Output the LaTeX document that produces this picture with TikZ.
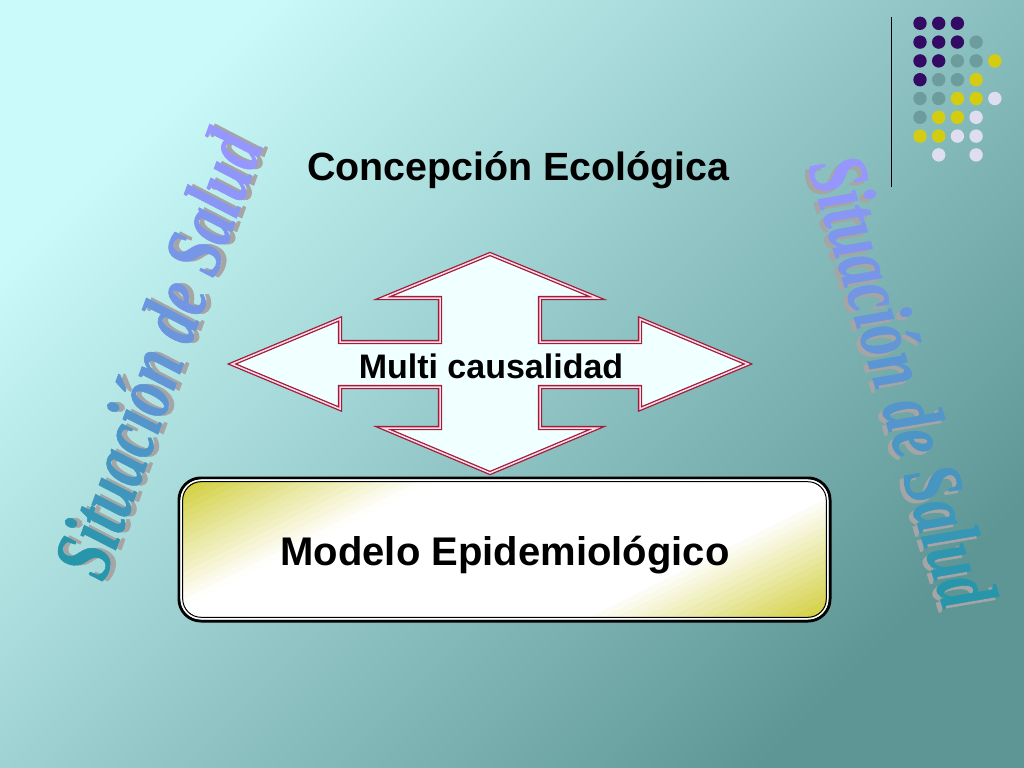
\documentclass[tikz,border=0pt]{standalone}
\usepackage{fontspec}
\usepackage{graphicx}
\setmainfont{Liberation Sans}
\newfontfamily\wafont{Liberation Serif}[BoldItalicFeatures={FakeBold=0.8}]
\definecolor{bgA}{RGB}{202,250,250}
\definecolor{bgB}{RGB}{94,150,150}
\definecolor{dotP}{RGB}{51,10,100}
\definecolor{dotG}{RGB}{108,156,156}
\definecolor{dotY}{RGB}{212,204,16}
\definecolor{dotL}{RGB}{222,222,240}
\definecolor{arrR}{RGB}{165,25,60}
\definecolor{arrGap}{RGB}{248,225,230}
\definecolor{arrFill}{RGB}{240,255,255}
\definecolor{boxY}{RGB}{206,204,48}
\definecolor{waA}{RGB}{40,150,170}
\definecolor{waB}{RGB}{150,150,255}
\definecolor{waS}{RGB}{165,165,165}
\newcommand{\wl}[2]{\textcolor{waB!#1!waA}{#2}}
\newcommand{\wafmt}{\fontsize{60bp}{60bp}\selectfont\wafont\bfseries\itshape}
\tikzset{
  watext/.style={inner sep=0pt, transform shape},
  wlabel/.style={inner sep=0pt, font=\bfseries},
  arrowshape/.style={draw=arrR, double=arrGap, double distance=1.5bp, line width=1.3bp, fill=arrFill, line join=miter},
}
\begin{document}
\begin{tikzpicture}[x=1bp,y=-1bp]
\useasboundingbox (0,0) rectangle (1024,768);
\shade[top color=bgA, bottom color=bgB, shading angle=45] (0,0) rectangle (1024,768);

% dots and line
\draw[black, line width=1.5] (891.5,17) -- (891.5,187);
\foreach \c/\r/\k in {0/0/dotP,1/0/dotP,2/0/dotP,
  0/1/dotP,1/1/dotP,2/1/dotP,3/1/dotG,
  0/2/dotP,1/2/dotP,2/2/dotG,3/2/dotG,4/2/dotY,
  0/3/dotP,1/3/dotG,2/3/dotG,3/3/dotY,
  0/4/dotG,1/4/dotG,2/4/dotY,3/4/dotY,4/4/dotL,
  0/5/dotG,1/5/dotY,2/5/dotY,3/5/dotL,
  0/6/dotY,1/6/dotY,2/6/dotL,3/6/dotL,
  1/7/dotL,3/7/dotL}
  \fill[\k] ({920+18.7*\c},{23.3+18.8*\r}) circle[radius=6.7];

% title
\node[wlabel, anchor=base] (ce) at (518.5,180) {\fontsize{39.4bp}{40bp}\selectfont Concepción Ecológica};

% quad arrow
\draw[arrowshape] (490,254) -- (597,298) -- (540,298) -- (540,342) -- (640,342) -- (640,319) -- (748,364)
  -- (640,409) -- (640,387) -- (540,387) -- (540,428) -- (597,428) -- (490,473) -- (383,428) -- (440,428)
  -- (440,387) -- (340,387) -- (340,409) -- (232,364) -- (340,319) -- (340,342) -- (440,342) -- (440,298)
  -- (383,298) -- cycle;
\node[wlabel, anchor=base] (mc) at (491,378) {\fontsize{34bp}{34bp}\selectfont Multi causalidad};

% box
\begin{scope}
  \clip[rounded corners=20] (181,480) rectangle (828,619);
  \begin{scope}[shift={(505,550)}, rotate=26.6]
    \foreach \t in {-250,-244,...,244} {
      \pgfmathsetmacro\p{min(100,max(0,(abs(\t+3)-95)/115*100))}
      \fill[boxY!\p!white] (-420,\t) rectangle (420,\t+6.6);
    }
  \end{scope}
\end{scope}
\draw[black, line width=3, rounded corners=22] (179,478) rectangle (830,621);
\draw[white, line width=1.5, rounded corners=20] (181.2,480.2) rectangle (827.8,618.8);
\draw[black, line width=1, rounded corners=18.5] (182.7,481.7) rectangle (826.3,617.3);
\node[wlabel, anchor=base] (me) at (505,565) {\fontsize{40bp}{40bp}\selectfont Modelo Epidemiológico};

% left word art
\begin{scope}[shift={(157,354)}, rotate=70]
  \node[watext, text=waS] (lsh) at (2,5) {\scalebox{1}[1.38]{\wafmt Situación de Salud}};
  \node[watext] (lwa) at (0,0) {\scalebox{1}[1.38]{\wafmt \wl{0}{S}\wl{7}{i}\wl{13}{t}\wl{20}{u}\wl{27}{a}\wl{33}{c}\wl{40}{i}\wl{47}{ó}\wl{53}{n} \wl{60}{d}\wl{67}{e} \wl{73}{S}\wl{80}{a}\wl{87}{l}\wl{93}{u}\wl{100}{d}}};
\end{scope}

% right word art
\begin{scope}[shift={(903,381)}, rotate=-73]
  \node[watext, text=waS] (rsh) at (2,5) {\scalebox{1}[1.38]{\wafmt Situación de Salud}};
  \node[watext] (rwa) at (0,0) {\scalebox{1}[1.38]{\wafmt \wl{100}{S}\wl{93}{i}\wl{87}{t}\wl{80}{u}\wl{73}{a}\wl{67}{c}\wl{60}{i}\wl{53}{ó}\wl{47}{n} \wl{40}{d}\wl{33}{e} \wl{27}{S}\wl{20}{a}\wl{13}{l}\wl{7}{u}\wl{0}{d}}};
\end{scope}
\end{tikzpicture}
\end{document}
